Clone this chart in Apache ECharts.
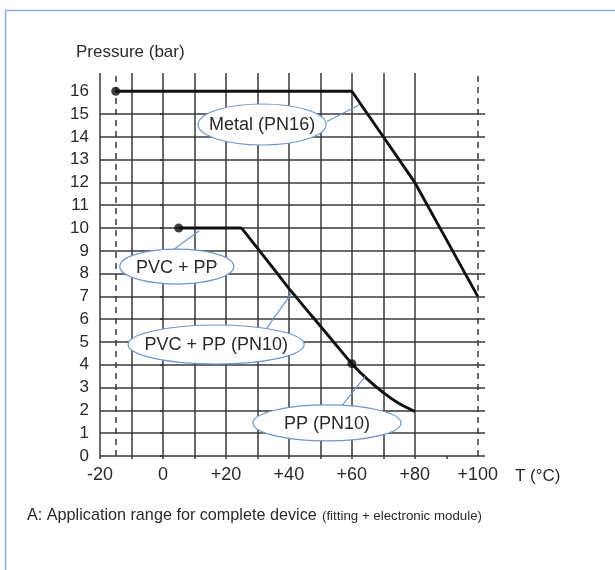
<!DOCTYPE html>
<html><head><meta charset="utf-8">
<script src="https://cdn.jsdelivr.net/npm/echarts@6/dist/echarts.min.js"></script>
<style>html,body{margin:0;padding:0;background:#fff}#c{width:615px;height:570px}</style>
</head><body><div id="c"></div>
<script>
// ---- data ----
const xTickValues = [-20, -10, 0, 10, 20, 30, 40, 50, 60, 70, 80, 90];
const xLabelValues = [-20, 0, 20, 40, 60, 80, 100];
const yLabelValues = [0,1,2,3,4,5,6,7,8,9,10,11,12,13,14,15,16];
const metalPN16 = [[-15,16],[60,16],[80,12],[90,9.5],[100,7]];
const pvcPPFlat = [[5,10],[25,10]];
const pvcPPCurve = [[25,10],[30,9.12],[35,8.24],[40,7.35],[45,6.52],[50,5.7],[55,4.87],[60,4.05]];
const ppCurve = [[60,4.05],[65,3.36],[70,2.78],[75,2.3],[80,1.95]];
const markerDots = [[-15,16],[5,10],[60,4.05]];
const dashedLimits = [-15, 100];
const annotationTexts = ['Metal (PN16)', 'PVC + PP', 'PVC + PP (PN10)', 'PP (PN10)'];
const annotationCenters = [[31.5,14.54],[4.4,8.31],[16.9,4.89],[52.1,1.45]];
const leaderLines = [
  [[52.1,14.67],[62.3,15.4]],
  [[3.3,9.05],[11.5,9.88]],
  [[33,5.61],[40.7,7.11]],
  [[56.8,2.2],[64.2,3.48]]
];
const xAxisName = 'T (°C)';
const yAxisName = 'Pressure (bar)';
const captionMain = 'A: Application range for complete device';
const captionSmall = '(fitting + electronic module)';

// ---- styles ----
const ellipseRadii = [[64,20.5],[57,17.5],[88,19.5],[74,18]];
const gridColor = '#383838';
const curveColor = '#111';
const blue = '#7096cb';
const textColor = '#2a2a2a';
const font = '"Liberation Sans", Arial, Helvetica, sans-serif';

const xSplitColors = xTickValues.map(() => gridColor).concat(['transparent','transparent']);

const curveStyle = {color: curveColor, width: 2.9};
function lineSeries(data, smooth) {
  return {type:'line', data, smooth: smooth || false, symbol:'none', lineStyle: curveStyle, z: 5, silent:true};
}

const option = {
  animation: false,
  backgroundColor: '#fff',
  grid: {left: 100, right: 130, top: 73, bottom: 114},
  xAxis: {
    type: 'value', min: -20, max: 102.3, interval: 10,
    axisLine: {show: false},
    axisTick: {show: true, length: 3, customValues: xTickValues, lineStyle: {color: gridColor, width: 1.5}},
    axisLabel: {customValues: xLabelValues, margin: 10, fontSize: 18, color: textColor, fontFamily: font,
      formatter: v => v > 0 ? '+' + v : String(v)},
    splitLine: {show: true, showMaxLine: false, lineStyle: {color: xSplitColors, width: 1.5}}
  },
  yAxis: {
    type: 'value', min: 0, max: 16.8, interval: 1,
    axisLine: {show: false},
    axisTick: {show: true, length: 3, customValues: yLabelValues, lineStyle: {color: gridColor, width: 1.5}},
    axisLabel: {customValues: yLabelValues, margin: 11, fontSize: 17, color: textColor, fontFamily: font},
    splitLine: {show: true, showMaxLine: false, lineStyle: {color: gridColor, width: 1.5}}
  },
  series: [
    lineSeries(metalPN16),
    lineSeries(pvcPPFlat),
    lineSeries(pvcPPCurve.concat(ppCurve.slice(1)), 0.15),
    {type:'scatter', data: markerDots, symbolSize: 9, itemStyle:{color: curveColor}, z: 6, silent: true,
     markLine: {silent: true, symbol: 'none', label: {show: false},
       lineStyle: {type: [6,5], color: gridColor, width: 1.5},
       data: dashedLimits.map(v => ({xAxis: v}))}}
  ]
};

const chart = echarts.init(document.getElementById('c'));
chart.setOption(option);
const px = p => chart.convertToPixel({gridIndex: 0}, p);

const graphics = [];
graphics.push({type:'polyline', shape:{points:[[5.5,570],[5.5,10.5],[615,10.5]]},
  style:{stroke:'#90b0db', lineWidth:1.5, fill:null}, z: 1});
leaderLines.forEach(l => {
  const a = px(l[0]), b = px(l[1]);
  graphics.push({type:'line', shape:{x1:a[0], y1:a[1], x2:b[0], y2:b[1]}, style:{stroke: blue, lineWidth: 1.2}, z: 99});
});
annotationTexts.forEach((t, i) => {
  const c = px(annotationCenters[i]);
  graphics.push({type:'ellipse', shape:{cx:c[0], cy:c[1], rx:ellipseRadii[i][0], ry:ellipseRadii[i][1]},
    style:{fill:'#fff', stroke: blue, lineWidth: 1.2}, z: 100});
  graphics.push({type:'text', x:c[0], y:c[1]+1, style:{text:t, fill:textColor, font:'18px ' + font, align:'center', verticalAlign:'middle'}, z: 101});
});
graphics.push({type:'text', x:76, y:52, style:{text:yAxisName, fill:textColor, font:'17px ' + font, align:'left', verticalAlign:'middle'}, z: 101});
graphics.push({type:'text', x:515, y:476, style:{text:xAxisName, fill:textColor, font:'17px ' + font, align:'left', verticalAlign:'middle'}, z: 101});
graphics.push({type:'text', x:27, y:524, style:{text:captionMain, fill:textColor, font:'16.2px ' + font, align:'left', verticalAlign:'bottom'}, z: 101});
graphics.push({type:'text', x:322, y:523, style:{text:captionSmall, fill:textColor, font:'13.3px ' + font, align:'left', verticalAlign:'bottom'}, z: 101});
chart.setOption({graphic: graphics});
</script>
</body></html>
